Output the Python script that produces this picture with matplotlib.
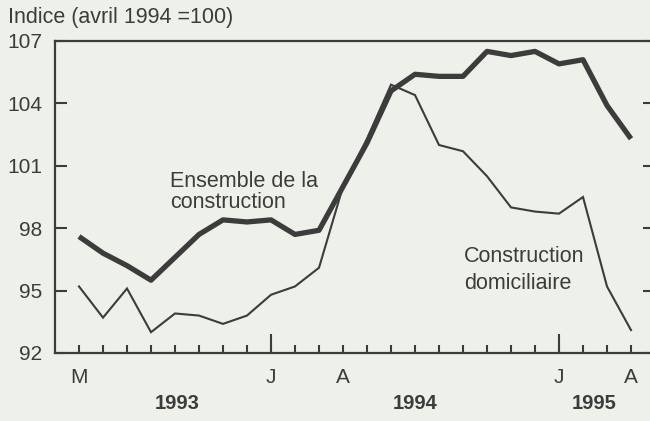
import numpy as np
import matplotlib.pyplot as plt
from matplotlib import transforms

# monthly index, May 1993 .. April 1995 (avril 1994 = 100)
months = ['M', '', '', '', '', '', '', '', 'J', '', '', 'A',
          '', '', '', '', '', '', '', '', 'J', '', '', 'A']
ensemble = [97.6, 96.8, 96.2, 95.5, 96.6, 97.7, 98.4, 98.3, 98.4, 97.7, 97.9, 100.0,
            102.1, 104.6, 105.4, 105.3, 105.3, 106.5, 106.3, 106.5, 105.9, 106.1, 103.9, 102.3]
domicil = [95.2, 93.7, 95.1, 93.0, 93.9, 93.8, 93.4, 93.8, 94.8, 95.2, 96.1, 100.0,
           102.3, 104.9, 104.4, 102.0, 101.7, 100.5, 99.0, 98.8, 98.7, 99.5, 95.2, 93.1]
years = ['1993', '1994', '1995']
yticks = [92, 95, 98, 101, 104, 107]

bg = '#eef0ea'
ink = '#3c3c3c'
plt.rcParams['font.family'] = ['Liberation Sans', 'DejaVu Sans']
plt.rcParams['font.size'] = 15

fig = plt.figure(figsize=(6.5, 4.21), dpi=100, facecolor=bg)
ax = fig.add_axes([55 / 650, 68 / 421, 600 / 650, 312 / 421], facecolor=bg)

x = np.arange(len(months))
ax.plot(x, domicil, color=ink, lw=1.5, solid_joinstyle='miter')
ax.plot(x, ensemble, color=ink, lw=3.8, solid_joinstyle='round', solid_capstyle='butt')

ax.set_xlim(-1, 24)
ax.set_ylim(92, 107)

for s in ['left', 'top', 'bottom']:
    ax.spines[s].set_color(ink)
    ax.spines[s].set_linewidth(1.6)
ax.spines['right'].set_visible(False)

ax.set_yticks(yticks)
ax.tick_params(axis='y', direction='in', length=8.5, width=1.5, color=ink,
               labelcolor=ink, pad=9, right=True)

ax.xaxis.remove_overlapping_locs = False
ax.set_xticks(x, months)
jan = [i for i, m in enumerate(months) if m == 'J']
ax.set_xticks(jan, minor=True)
ax.tick_params(axis='x', which='major', direction='in', length=6, width=1.5,
               color=ink, labelcolor=ink, pad=11)
ax.tick_params(axis='x', which='minor', direction='in', length=14, width=1.5, color=ink)

trans = transforms.blended_transform_factory(ax.transData, ax.transAxes)
for yr, pos in zip(years, [4.1, 14.0, 21.45]):
    ax.text(pos, -0.163, yr, transform=trans, ha='center', va='center',
            fontweight='bold', color=ink, fontsize=14.5)

ax.text(3.8, 99.98, 'Ensemble de la', color=ink, va='baseline', ha='left', fontsize=15.5)
ax.text(3.8, 98.95, 'construction', color=ink, va='baseline', ha='left', fontsize=15.5)
ax.text(16.05, 96.38, 'Construction', color=ink, va='baseline', ha='left', fontsize=15.5)
ax.text(16.05, 95.08, 'domiciliaire', color=ink, va='baseline', ha='left', fontsize=15.5)

fig.text(8 / 650, 1 - 23 / 421, 'Indice (avril 1994 =100)', color=ink,
         va='baseline', ha='left', fontsize=15.5)

fig.savefig('out.png', dpi=100, facecolor=bg)
